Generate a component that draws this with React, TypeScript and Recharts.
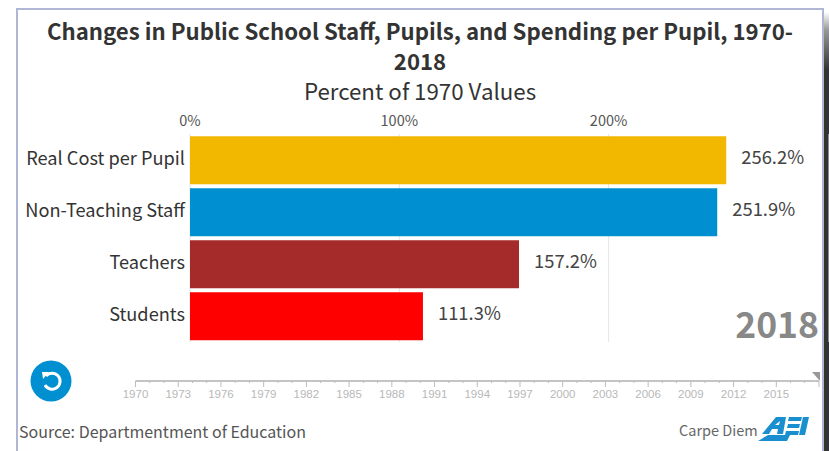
import React from 'react';
import { BarChart, Bar, XAxis, YAxis, CartesianGrid, Cell, LabelList, LineChart, Line } from 'recharts';

const categories = ['Real Cost per Pupil', 'Non-Teaching Staff', 'Teachers', 'Students'];
const values = [256.2, 251.9, 157.2, 111.3];
const colors = ['#f2b800', '#008fd0', '#a52a2a', '#ff0000'];
const pctTicks = [0, 100, 200];
const timelineYears = [1970, 2018];
const majorYears = [1970, 1973, 1976, 1979, 1982, 1985, 1988, 1991, 1994, 1997, 2000, 2003, 2006, 2009, 2012, 2015];
const allYears = Array.from({ length: 49 }, (_, i) => 1970 + i);

// the latin glyphs of Noto Sans CJK are Source Sans, same as the original
const font = '"Noto Sans CJK SC", "Noto Sans", sans-serif';
const data = categories.map((name, i) => ({ name, value: values[i] }));
const timeline = timelineYears.map(year => ({ year, v: 0 }));

const YearTick = (props: any) => {
    const { x, y, payload } = props;
    const major = majorYears.includes(payload.value) || payload.value === 2018;
    return (
        <g>
            <line x1={x} x2={x} y1={y} y2={y + (major ? 6 : 2)} stroke="#bdbdbd" />
            {majorYears.includes(payload.value) && (
                <text x={x} y={y + 17} textAnchor="middle" fontSize={11.5} fill="#b8b8b8" fontFamily="Liberation Sans">
                    {payload.value}
                </text>
            )}
        </g>
    );
};

const ValueLabel = (props: any) => {
    const { x, y, width, height, value } = props;
    return (
        <text x={x + width + 15} y={y + height / 2 + 4} fill="#444" fontSize={18.4} fontFamily={font}>
            {value}%
        </text>
    );
};

const App = () => {
    return (
        <div style={{ position: 'absolute', left: 0, top: 0, width: 829, height: 451, background: '#fff', overflow: 'hidden', fontFamily: font }}>
            {/* frame */}
            <div style={{ position: 'absolute', left: 16, top: 8, width: 808, height: 460, border: '2px solid #b0b6d6', boxSizing: 'border-box' }} />
            <div style={{ position: 'absolute', left: 824, top: 0, width: 5, height: 451, background: 'linear-gradient(180deg,#fff 0,#fff 12px,#999 30px,#333 70px,#333 100%)' }} />

            <div style={{ position: 'absolute', left: 18, width: 804, top: 15, textAlign: 'center', fontSize: 22.2, fontWeight: 700, lineHeight: '30px', color: '#333', whiteSpace: 'nowrap' }}>
                Changes in Public School Staff, Pupils, and Spending per Pupil, 1970-
                <br />2018
            </div>
            <div style={{ position: 'absolute', left: 18, width: 804, top: 75, textAlign: 'center', fontSize: 22.3, lineHeight: '30px', color: '#333' }}>
                Percent of 1970 Values
            </div>

            <div style={{ position: 'absolute', left: 0, top: 0 }}>
                <BarChart width={829} height={345} data={data} layout="vertical" barCategoryGap={2.25}
                    margin={{ top: 112, right: 0, bottom: 3, left: 0 }}>
                    <CartesianGrid horizontal={false} stroke="#e6e6e6" />
                    <XAxis type="number" orientation="top" domain={[0, 639 / 2.093]} ticks={pctTicks} height={22}
                        tickFormatter={(v: number) => `${v}%`} axisLine={false} tickLine={false}
                        tick={{ fontSize: 14.5, fill: '#555', fontFamily: font }} />
                    <YAxis type="category" dataKey="name" width={190} axisLine={false} tickLine={false} interval={0}
                        tick={{ fontSize: 18.2, fill: '#333', fontFamily: font, dx: 3, dy: -1.5 }} />
                    <Bar dataKey="value" isAnimationActive={false}>
                        {data.map((d, i) => <Cell key={d.name} fill={colors[i]} />)}
                        <LabelList dataKey="value" content={<ValueLabel />} />
                    </Bar>
                </BarChart>
            </div>

            <div style={{ position: 'absolute', right: 10, top: 299, fontSize: 35.5, lineHeight: '48px', fontWeight: 700, color: '#888' }}>2018</div>

            {/* replay button */}
            <svg width={42} height={42} style={{ position: 'absolute', left: 30, top: 360 }}>
                <circle cx={21} cy={21} r={20.5} fill="#008fd0" />
                <path d="M16 16 A8 8 0 1 1 15 25" fill="none" stroke="#fff" strokeWidth={3} />
                <path d="M12 12 L19 12 L13 19 Z" fill="#fff" />
            </svg>

            {/* year slider */}
            <div style={{ position: 'absolute', left: 0, top: 360 }}>
                <LineChart width={829} height={50} data={timeline} margin={{ top: 21, right: 10, bottom: 0, left: 135.5 }}>
                    <XAxis type="number" dataKey="year" domain={[1970, 2018]} ticks={allYears} interval={0} height={29}
                        stroke="#c4c4c4" strokeWidth={2} tickLine={false} tickSize={0} tickMargin={0} tick={<YearTick />} />
                    <YAxis hide domain={[0, 1]} />
                    <Line dataKey="v" stroke="none" dot={false} isAnimationActive={false} />
                </LineChart>
            </div>
            <svg width={10} height={10} style={{ position: 'absolute', left: 812, top: 372 }}>
                <path d="M0 0 H8 V9 Z" fill="#999" />
            </svg>

            <div style={{ position: 'absolute', left: 19, top: 419, fontSize: 16, lineHeight: '24px', color: '#555' }}>Source: Departmentment of Education</div>
            <div style={{ position: 'absolute', left: 679, top: 418, fontSize: 14.5, lineHeight: '24px', color: '#666' }}>Carpe Diem</div>
            {/* AEI logo */}
            <svg width={54} height={28} style={{ position: 'absolute', left: 756, top: 415 }}>
                <path d="M2 26 L12 20 H34 L31 26 Z" fill="#1a8fd0" />
                <path d="M6 19 L20 2 H30 L27 19 H21 L22 14 H16 L13 19 Z M19 10 H23 L24 6 Z" fill="#1a8fd0" fillRule="evenodd" />
                <path d="M33 2 H46 L45 6 H32 Z M32 9 H44 L43 13 H31 Z M30 16 H43 L42 20 H29 Z" fill="#1a8fd0" />
                <path d="M47 2 H53 L49 20 H43 Z" fill="#1a8fd0" />
            </svg>
        </div>
    );
};

export default App;
